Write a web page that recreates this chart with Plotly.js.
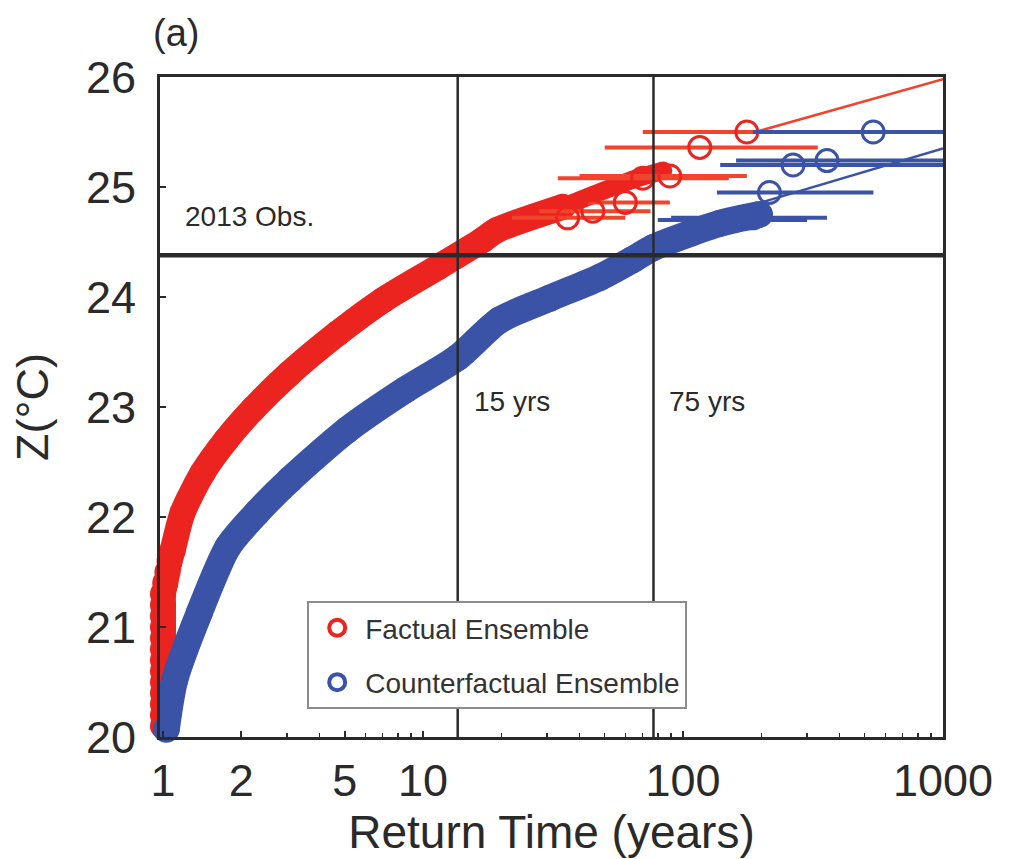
<!DOCTYPE html>
<html>
<head>
<meta charset="utf-8">
<script src="https://cdn.plot.ly/plotly-3.0.1.min.js"></script>
<style>
  html, body { margin: 0; padding: 0; background: #ffffff; }
  #chart { width: 1019px; height: 859px; }
</style>
</head>
<body>
<div id="chart"></div>
<script>
// ---- Data ----
// Factual ensemble (red): return time (years) vs Z (°C), centre of the dense band
// (the lowest events all sit at a return time of about 1 year, forming a column)
const factualT = [1.0, 1.0, 1.0, 1.0, 1.0, 1.0, 1.0, 1.0, 1.0, 1.0, 1.0, 1.0, 1.0, 1.02, 1.04, 1.06, 1.09, 1.19, 1.42, 1.75, 2.22, 3.05, 4.7, 7.0, 11.4, 17, 19.3, 34.5];
const factualZ = [20.1, 20.2, 20.3, 20.4, 20.5, 20.6, 20.7, 20.8, 20.9, 21.0, 21.1, 21.2, 21.3, 21.4, 21.5, 21.6, 21.7, 22.04, 22.4, 22.7, 22.98, 23.3, 23.67, 23.97, 24.27, 24.52, 24.61, 24.82];
// sparser upper end of the factual band
const factualTailT = [34.5, 62.8, 84];
const factualTailZ = [24.82, 25.06, 25.15];
// largest factual events with return-time uncertainty ranges
const factualTopT = [36, 45, 60, 70, 89, 116, 176];
const factualTopZ = [24.72, 24.78, 24.86, 25.08, 25.10, 25.36, 25.50];
const factualTopLow = [22, 28, 43, 33, 40, 50, 70];
const factualTopHigh = [60, 75, 89, 150, 176, 330, 346];
// factual fitted line
const factualFitT = [190, 1000];
const factualFitZ = [25.50, 25.98];

// Counterfactual ensemble (blue)
const counterT = [1.03, 1.11, 1.38, 1.78, 2.3, 3.08, 5.1, 8.6, 13.6, 19.7, 30.8, 48, 64, 77, 139, 197];
const counterZ = [20.07, 20.52, 21.13, 21.73, 22.04, 22.34, 22.79, 23.16, 23.45, 23.79, 23.99, 24.18, 24.34, 24.45, 24.67, 24.75];
const counterTopT = [156, 186, 215, 265, 358, 539];
const counterTopZ = [24.70, 24.72, 24.95, 25.20, 25.24, 25.50];
const counterTopLow = [80, 90, 135, 139, 160, 186];
const counterTopHigh = [300, 358, 540, 1500, 2000, 2000];
const counterFitT = [200, 1000];
const counterFitZ = [24.86, 25.35];

// Reference lines
const obsZ = 24.38;                 // 2013 observation
const returnLines = [13.6, 77];     // "15 yrs" and "75 yrs" lines as drawn

const xTicks = [1, 2, 5, 10, 100, 1000];
const xTickText = ['1', '2', '5', '10', '100', '1000'];
const xMinor = [3, 4, 6, 7, 8, 9, 20, 30, 40, 50, 60, 70, 80, 90, 200, 300, 400, 500, 600, 700, 800, 900];
const yTicks = [20, 21, 22, 23, 24, 25, 26];

const RED = '#ec2420';
const RED_LIGHT = '#f0442c';
const BLUE = '#3a53a6';
const INK = '#2a2a2a';
const FONT = 'Liberation Sans, Arial, Helvetica, sans-serif';

const xMin = 0.974, xMax = 1000;

const traces = [
  // factual band
  { x: factualT, y: factualZ, mode: 'lines+markers', showlegend: false, cliponaxis: false,
    line: { color: RED, width: 26, shape: 'spline', smoothing: 0.7 },
    marker: { color: RED, size: 26, symbol: 'circle' }, hoverinfo: 'skip' },
  { x: factualTailT, y: factualTailZ, mode: 'lines+markers', showlegend: false,
    line: { color: RED, width: 18, shape: 'spline', smoothing: 0.7 },
    marker: { color: RED, size: 18 }, hoverinfo: 'skip' },
  // factual fit
  { x: factualFitT, y: factualFitZ, mode: 'lines', showlegend: false,
    line: { color: RED_LIGHT, width: 2.5 }, hoverinfo: 'skip' },
  // factual top events
  { x: factualTopT, y: factualTopZ, mode: 'markers', showlegend: false,
    marker: { symbol: 'circle-open', size: 22, color: RED, line: { width: 3, color: RED } },
    error_x: { type: 'data', symmetric: false,
      array: factualTopT.map((t, i) => factualTopHigh[i] - t),
      arrayminus: factualTopT.map((t, i) => t - factualTopLow[i]),
      color: RED_LIGHT, thickness: 4, width: 0 } },

  // counterfactual band
  { x: counterT, y: counterZ, mode: 'lines+markers', showlegend: false, cliponaxis: false,
    line: { color: BLUE, width: 27, shape: 'spline', smoothing: 0.7 },
    marker: { color: BLUE, size: 27 }, hoverinfo: 'skip' },
  { x: counterFitT, y: counterFitZ, mode: 'lines', showlegend: false,
    line: { color: BLUE, width: 2.5 }, hoverinfo: 'skip' },
  { x: counterTopT, y: counterTopZ, mode: 'markers', showlegend: false,
    marker: { symbol: 'circle-open', size: 22, color: BLUE, line: { width: 3, color: BLUE } },
    error_x: { type: 'data', symmetric: false,
      array: counterTopT.map((t, i) => counterTopHigh[i] - t),
      arrayminus: counterTopT.map((t, i) => t - counterTopLow[i]),
      color: BLUE, thickness: 4, width: 0 } },

  // reference lines
  { x: [returnLines[0], returnLines[0]], y: [20, 26], mode: 'lines', showlegend: false,
    line: { color: INK, width: 2.5 }, hoverinfo: 'skip' },
  { x: [returnLines[1], returnLines[1]], y: [20, 26], mode: 'lines', showlegend: false,
    line: { color: INK, width: 2.5 }, hoverinfo: 'skip' },
  { x: [xMin, xMax], y: [obsZ, obsZ], mode: 'lines', showlegend: false,
    line: { color: INK, width: 4.5 }, hoverinfo: 'skip' },

  // legend entries
  { x: [null], y: [null], mode: 'markers', name: 'Factual Ensemble', legendgroup: 'f',
    marker: { symbol: 'circle-open', size: 20, color: RED, line: { width: 4, color: RED } } },
  { x: [null], y: [null], mode: 'markers', name: 'Counterfactual Ensemble', legendgroup: 'c',
    marker: { symbol: 'circle-open', size: 20, color: BLUE, line: { width: 4, color: BLUE } } }
];

const layout = {
  width: 1019, height: 859,
  margin: { l: 160, r: 76, t: 77, b: 122, pad: 0 },
  paper_bgcolor: '#ffffff', plot_bgcolor: '#ffffff',
  font: { family: FONT, color: INK },
  showlegend: true,
  xaxis: {
    type: 'log', range: [Math.log10(xMin), Math.log10(xMax)],
    tickvals: xTicks, ticktext: xTickText,
    ticks: 'inside', ticklen: 6, tickwidth: 2, tickcolor: INK,
    minor: { tickvals: xMinor, ticks: 'inside', ticklen: 4, tickwidth: 1.5, tickcolor: INK, showgrid: false },
    showline: true, mirror: true, linecolor: INK, linewidth: 3,
    showgrid: false, zeroline: false,
    tickfont: { size: 45, family: FONT, color: INK },
    ticklabelstandoff: 2,
    title: { text: 'Return Time (years)', font: { size: 46, family: FONT, color: INK }, standoff: 8 }
  },
  yaxis: {
    range: [20, 26], tickvals: yTicks,
    ticks: 'inside', ticklen: 6, tickwidth: 2, tickcolor: INK,
    showline: true, mirror: true, linecolor: INK, linewidth: 3,
    showgrid: false, zeroline: false,
    tickfont: { size: 45, family: FONT, color: INK },
    ticklabelstandoff: 12,
    title: { text: 'Z(°C)', font: { size: 45, family: FONT, color: INK }, standoff: 24 }
  },
  legend: {
    x: 0.188, y: 0.206, xanchor: 'left', yanchor: 'top',
    bgcolor: '#ffffff', bordercolor: '#8c8c8c', borderwidth: 2,
    font: { size: 28, family: FONT, color: '#333333' },
    traceorder: 'grouped', tracegroupgap: 15, itemsizing: 'trace', itemwidth: 46
  },
  annotations: [
    { text: '(a)', xref: 'paper', yref: 'paper', x: -0.012, y: 1.067, xanchor: 'left', yanchor: 'middle',
      showarrow: false, font: { size: 38, family: FONT, color: INK } },
    { text: '2013 Obs.', xref: 'paper', yref: 'paper', x: 0.029, y: 0.788, xanchor: 'left', yanchor: 'middle',
      showarrow: false, font: { size: 28, family: FONT, color: INK } },
    { text: '15 yrs', xref: 'paper', yref: 'paper', x: 0.398, y: 0.508, xanchor: 'left', yanchor: 'middle',
      showarrow: false, font: { size: 28, family: FONT, color: INK } },
    { text: '75 yrs', xref: 'paper', yref: 'paper', x: 0.6475, y: 0.508, xanchor: 'left', yanchor: 'middle',
      showarrow: false, font: { size: 28, family: FONT, color: INK } }
  ]
};

Plotly.newPlot('chart', traces, layout, { staticPlot: true, displayModeBar: false });
</script>
</body>
</html>
